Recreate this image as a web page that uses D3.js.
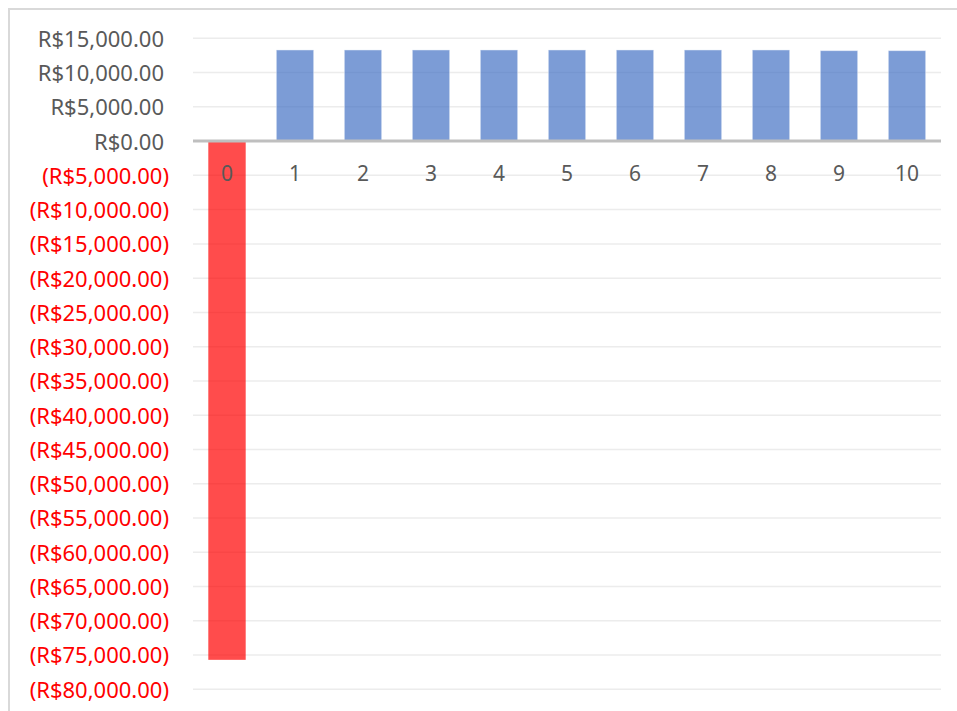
<!DOCTYPE html>
<html>
<head>
<meta charset="utf-8">
<script src="https://cdn.jsdelivr.net/npm/d3@7/dist/d3.min.js"></script>
<style>
  html, body { margin: 0; padding: 0; background: #fff; }
  svg { display: block; }
</style>
</head>
<body>
<svg id="chart" width="957" height="711"></svg>
<script>
// Cash flow by period: initial investment (period 0) followed by yearly returns
const periods = [0, 1, 2, 3, 4, 5, 6, 7, 8, 9, 10];
const cashFlows = [-75700, 13300, 13300, 13300, 13300, 13300, 13300, 13300, 13300, 13200, 13200];
const yTicks = [15000, 10000, 5000, 0, -5000, -10000, -15000, -20000, -25000, -30000, -35000,
  -40000, -45000, -50000, -55000, -60000, -65000, -70000, -75000, -80000];

const svg = d3.select("#chart");
const font = "'Noto Sans', 'Open Sans', sans-serif";

// outer chart-area frame
svg.append("rect")
  .attr("x", 9).attr("y", 9)
  .attr("width", 1000).attr("height", 1000)
  .attr("fill", "#fff")
  .attr("stroke", "#d9d9d9").attr("stroke-width", 2);

const plot = { left: 193, right: 941, top: 38.3, bottom: 689.3 };

const y = d3.scaleLinear().domain([-80000, 15000]).range([plot.bottom, plot.top]);
const x = d3.scaleBand().domain(periods).range([plot.left, plot.right])
  .paddingInner(0.45).paddingOuter(0.225);

// horizontal gridlines
svg.append("g").selectAll("line").data(yTicks.filter(d => d !== 0)).join("line")
  .attr("x1", plot.left).attr("x2", plot.right)
  .attr("y1", d => y(d)).attr("y2", d => y(d))
  .attr("stroke", "#ececec").attr("stroke-width", 1.5);

// bars
const fmt = d3.format(",.2f");
svg.append("g").selectAll("rect").data(periods).join("rect")
  .attr("x", (d) => x(d))
  .attr("width", x.bandwidth())
  .attr("y", (d, i) => y(Math.max(0, cashFlows[i])))
  .attr("height", (d, i) => Math.abs(y(cashFlows[i]) - y(0)))
  .attr("fill", (d, i) => cashFlows[i] < 0 ? "#ff0000" : "#4472c4")
  .attr("fill-opacity", 0.7)
  .attr("stroke", (d, i) => cashFlows[i] < 0 ? "none" : "rgba(255,255,255,0.45)")
  .attr("stroke-width", 1);

// zero baseline
svg.append("line")
  .attr("x1", plot.left).attr("x2", plot.right)
  .attr("y1", y(0)).attr("y2", y(0))
  .attr("stroke", "#bfbfbf").attr("stroke-width", 3);

// y axis labels (currency, negatives in red parentheses)
const yAxis = d3.axisLeft(y).tickValues(yTicks).tickSize(0).tickPadding(0)
  .tickFormat(d => d < 0 ? "(R$" + fmt(-d) + ")" : "R$" + fmt(d));
const yg = svg.append("g").attr("transform", "translate(164,0)").call(yAxis);
yg.select(".domain").remove();
yg.selectAll("text")
  .attr("font-family", font).attr("font-size", 22)
  .attr("fill", d => d < 0 ? "#ff0000" : "#595959")
  .attr("x", d => d < 0 ? 5 : 0)
  .attr("dy", "0.36em");

// category labels below the zero line
const xAxis = d3.axisBottom(x).tickSize(0).tickPadding(0);
const xg = svg.append("g").attr("transform", `translate(0,${y(0)})`).call(xAxis);
xg.select(".domain").remove();
xg.selectAll("text")
  .attr("font-family", font).attr("font-size", 21)
  .attr("fill", "#595959")
  .attr("y", 32).attr("dy", "0.36em");
</script>
</body>
</html>
